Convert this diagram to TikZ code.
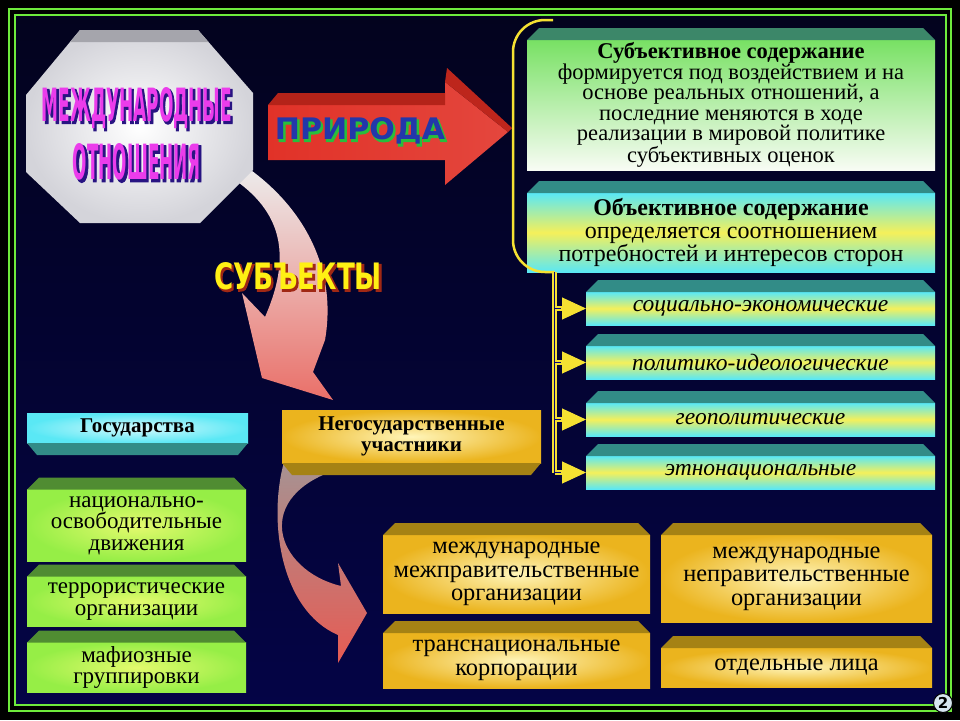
\documentclass[tikz,border=0pt]{standalone}
\usepackage{fontspec}
\setmainfont{Liberation Serif}
\newfontfamily\artfont{DejaVu Sans}
\newfontfamily\artrim{DejaVu Sans}[FakeBold=4]
\usepackage{tikz}
\usetikzlibrary{arrows.meta,positioning,calc}
\definecolor{darkbg}{RGB}{3,3,30}
\definecolor{navybg}{RGB}{6,6,115}
\definecolor{navybot}{RGB}{4,4,70}
\definecolor{framegreen}{RGB}{110,235,60}
\definecolor{brackyellow}{RGB}{245,225,50}
\definecolor{cyanface}{RGB}{90,232,245}
\definecolor{yellowface}{RGB}{245,240,90}
\definecolor{tealbev}{RGB}{50,140,135}
\definecolor{greenface}{RGB}{120,225,100}
\definecolor{paleface}{RGB}{248,252,244}
\definecolor{greenbev}{RGB}{60,135,105}
\definecolor{limeface}{RGB}{150,238,70}
\definecolor{limelight}{RGB}{228,250,110}
\definecolor{limebev}{RGB}{80,140,50}
\definecolor{goldface}{RGB}{235,180,30}
\definecolor{goldlight}{RGB}{255,245,185}
\definecolor{goldbev}{RGB}{165,130,20}
\definecolor{arrowred}{RGB}{225,50,40}
\definecolor{arrowpink}{RGB}{252,215,210}
\definecolor{arrowdark}{RGB}{180,35,25}
\definecolor{marble}{RGB}{212,212,218}
\definecolor{marbledark}{RGB}{165,165,172}
\definecolor{titlemag}{RGB}{235,60,235}
\definecolor{titleblue}{RGB}{40,20,130}
\definecolor{natblue}{RGB}{35,55,170}
\definecolor{natgreen}{RGB}{40,190,60}
\definecolor{subjyellow}{RGB}{255,240,20}
\definecolor{subjred}{RGB}{160,40,20}
\definecolor{badgefill}{RGB}{215,230,240}
% word-art text: rim colour, face colour, width, height, word
\newcommand{\wordart}[5]{%
  \rlap{\kern1.6pt\raisebox{-1.6pt}{\color{#1}\resizebox{#3}{#4}{\artrim\bfseries #5}}}%
  {\color{#2}\resizebox{#3}{#4}{\artfont\bfseries #5}}}
% bevels of the 3d boxes
\newcommand{\bevtop}[2]{\fill[#2] (#1.north west) -- ([xshift=12pt,yshift=12pt]#1.north west) -- ([xshift=-12pt,yshift=12pt]#1.north east) -- (#1.north east) -- cycle;}
\newcommand{\bevbot}[2]{\fill[#2] (#1.south west) -- ([xshift=10pt,yshift=-12pt]#1.south west) -- ([xshift=-10pt,yshift=-12pt]#1.south east) -- (#1.south east) -- cycle;}
\tikzset{face/.style={align=center, inner sep=1pt, outer sep=0pt, text=black},
  subjbox/.style={face, minimum width=408pt, minimum height=130pt, top color=greenface, bottom color=paleface, font=\fontsize{22.5}{20.6}\selectfont},
  objbox/.style={face, minimum width=408pt, minimum height=79pt, top color=cyanface, bottom color=cyanface, middle color=yellowface, font=\fontsize{24}{23}\selectfont},
  kindbox/.style={face, minimum width=349pt, minimum height=33pt, top color=cyanface, bottom color=cyanface, middle color=yellowface, font=\fontsize{23.5}{20}\selectfont\itshape},
  gosbox/.style={face, minimum width=221pt, minimum height=30pt, inner color=white!75!cyanface, outer color=cyanface, font=\fontsize{21}{21}\selectfont\bfseries},
  negbox/.style={face, minimum width=259pt, minimum height=53pt, inner color=goldlight, outer color=goldface, font=\fontsize{21}{21}\selectfont\bfseries},
  limebox/.style={face, minimum width=219pt, inner color=limelight, outer color=limeface, font=\fontsize{23}{21.5}\selectfont},
  goldbox/.style={face, inner color=goldlight, outer color=goldface, font=\fontsize{24.4}{23.5}\selectfont},
  bigarrow/.style={top color=white!85!gray, middle color=white, bottom color=arrowred!70!white},
  bracketline/.style={brackyellow, line width=2.5pt, rounded corners=32pt},
  busline/.style={brackyellow, line width=1.5pt, double=navybg, double distance=1.8pt},
  tipline/.style={brackyellow, line width=1pt, -{Triangle[length=24pt,width=22pt]}}}
\begin{document}
\begin{tikzpicture}[x=1pt,y=-1pt]
\useasboundingbox (0,0) rectangle (960,720);
% background and frame
\fill[black] (0,0) rectangle (960,720);
\shade[top color=darkbg, middle color=navybg, bottom color=navybot] (15,15) rectangle (946,705);
\draw[framegreen, line width=2pt] (9,9) rectangle (951,711);
\draw[framegreen, line width=1.6pt] (15,15) rectangle (946,705);

% arrow to the subjects (under the octagon)
\shade[bigarrow] (248,168) .. controls (300,205) and (338,265) .. (325,340) -- (313,372) -- (333,400) -- (262,378) -- (242,293) -- (265,317) .. controls (290,260) and (285,215) .. (235,180) -- cycle;

% octagon
\shade[inner color=white, outer color=marble] (80,30) -- (198,30) -- (253,93) -- (253,170) -- (200,223) -- (80,223) -- (26,172) -- (26,95) -- cycle;
\fill[marbledark] (80,30) -- (198,30) -- (208.5,42) -- (70,42) -- cycle;
\node[inner sep=0pt] (mo) at (137,109) {\wordart{titleblue}{titlemag}{190pt}{34pt}{МЕЖДУНАРОДНЫЕ}};
\node[inner sep=0pt] (mo2) at (137,163) {\wordart{titleblue}{titlemag}{128pt}{36pt}{ОТНОШЕНИЯ}};

% arrow of the nature
\shade[left color=arrowred, middle color=arrowpink, right color=arrowred!90!white] (268,105) -- (445,105) -- (445,82) -- (508,132) -- (445,185) -- (445,160) -- (268,160) -- cycle;
\fill[arrowdark] (268,105) -- (278,93) -- (445,93) -- (445,105) -- cycle;
\fill[arrowdark!80!arrowred] (445,82) -- (447,68) -- (512,128) -- (508,132) -- cycle;
\node[inner sep=0pt] (nat) at (360,132) {\wordart{natgreen}{natblue}{170pt}{22pt}{ПРИРОДА}};
\node[inner sep=0pt] (subjects) at (298,277) {\wordart{subjred}{subjyellow}{168pt}{27pt}{СУБЪЕКТЫ}};

% content of the nature
\node[subjbox] (subj) at (731,105) {\textbf{Субъективное содержание}\\формируется под воздействием и на\\основе реальных отношений, а\\последние меняются в ходе\\реализации в мировой политике\\субъективных оценок};
\node[objbox] (obj) at (731,232.5) {\textbf{Объективное содержание}\\определяется соотношением\\потребностей и интересов сторон};
\node[kindbox, below=20pt of obj.south east, anchor=north east] (soc) {социально-экономические};
\node[kindbox, below=21pt of soc] (pol) {политико-идеологические};
\node[kindbox, below=24pt of pol] (geo) {геополитические};
\node[kindbox, below=20pt of geo] (eth) {этнонациональные};
\bevtop{subj}{greenbev} \bevtop{obj}{tealbev}
\foreach \k in {soc,pol,geo,eth} {\bevtop{\k}{tealbev}}

% bracket and bus
\coordinate (brtop) at (553,20);
\coordinate (bus) at (554.5,272);
\draw[bracketline] (brtop) -- (513,20) -- (513,272) -- (bus);
\draw[busline] (bus) -- (bus |- eth.west);
\foreach \k in {soc,pol,geo,eth} {\draw[busline] (bus |- \k.west) -- ([xshift=-22pt]\k.west);
  \draw[tipline] ([xshift=-25pt]\k.west) -- (\k.west);}

% subjects
\shade[top color=gray!70!pink, middle color=white, bottom color=arrowred!80!white] (284,462) .. controls (268,520) and (280,610) .. (338,635) -- (338,663) -- (367,613) -- (338,563) -- (341,586) .. controls (275,570) and (250,495) .. (342,468) -- cycle;
\node[gosbox] (gos) at (137.5,428) {Государства};
\node[negbox] (neg) at (411.5,436.5) {Негосударственные\\участники};
\bevbot{gos}{tealbev} \bevbot{neg}{goldbev}
\node[limebox, minimum height=72pt] (lib) at (136.5,525.5) {национально-\\освободительные\\движения};
\node[limebox, minimum height=50pt, below=15pt of lib] (ter) {террористические\\организации};
\node[limebox, minimum height=50pt, below=16pt of ter] (maf) {мафиозные\\группировки};
\node[goldbox, minimum width=267pt, minimum height=78pt] (igo) at (516.5,574) {международные\\межправительственные\\организации};
\node[goldbox, minimum width=267pt, minimum height=55pt, below=20pt of igo] (tnc) {транснациональные\\корпорации};
\node[goldbox, minimum width=271pt, minimum height=87pt] (ngo) at (796.5,578.5) {международные\\неправительственные\\организации};
\node[goldbox, minimum width=271pt, minimum height=39pt, below=26pt of ngo] (ind) {отдельные лица};
\foreach \k in {lib,ter,maf} {\bevtop{\k}{limebev}}
\foreach \k in {igo,tnc,ngo,ind} {\bevtop{\k}{goldbev}}

% page badge
\node[circle, fill=badgefill, draw=black, line width=1pt, inner sep=0pt, minimum size=19pt, font=\artfont\bfseries\fontsize{15}{15}\selectfont] (page) at (943,703) {2};
\end{tikzpicture}
\end{document}
